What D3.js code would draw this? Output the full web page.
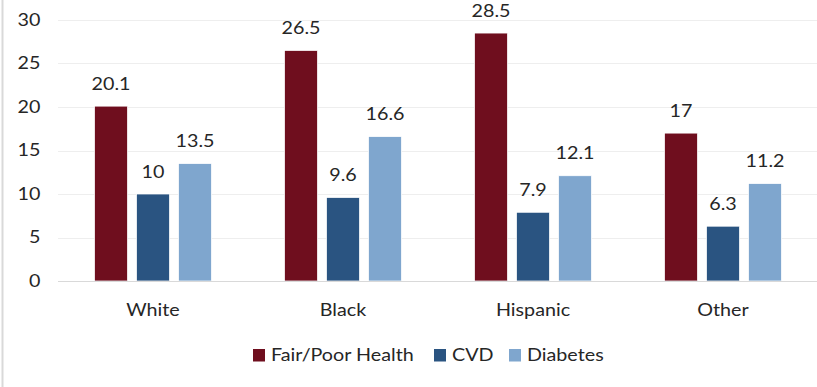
<!DOCTYPE html>
<html>
<head>
<meta charset="utf-8">
<script src="https://cdn.jsdelivr.net/npm/d3@7"></script>
<style>
  body { margin: 0; background: #fff; }
  text { font-family: Lato, "Open Sans", sans-serif; fill: #262626; font-size: 17px; }
</style>
</head>
<body>
<svg id="chart"></svg>
<script>
const categories = ["White", "Black", "Hispanic", "Other"];
const series = ["Fair/Poor Health", "CVD", "Diabetes"];
const fairPoor = [20.1, 26.5, 28.5, 17];
const cvd = [10, 9.6, 7.9, 6.3];
const diabetes = [13.5, 16.6, 12.1, 11.2];
const yTicks = [0, 5, 10, 15, 20, 25, 30];
const colors = ["#6f0e1e", "#2a5481", "#7fa6ce"];

const WIDTH = 817, HEIGHT = 387;
const MARGIN = { top: 20, right: -1, bottom: 106, left: 58 };
// the reference text is a little wider than Lato, stretch it sideways
const STRETCH = 1.16;

const svg = d3.select("#chart")
  .attr("width", WIDTH)
  .attr("height", HEIGHT);

// thin frame line on the left
svg.append("line")
  .attr("x1", 2.5).attr("x2", 2.5)
  .attr("y1", 0).attr("y2", HEIGHT)
  .style("stroke", "#d9d9d9")
  .style("stroke-width", 2);

const x0 = d3.scaleBand()
  .domain(categories)
  .range([MARGIN.left, WIDTH - MARGIN.right]);

const x1 = d3.scaleBand()
  .domain(series)
  .range([-58.5, 58.5])
  .paddingInner(0.214);

const y = d3.scaleLinear()
  .domain([0, 30])
  .range([HEIGHT - MARGIN.bottom, MARGIN.top]);

// gridlines
svg.append("g")
  .selectAll("line")
  .data(yTicks.filter(d => d > 0))
  .enter()
  .append("line")
  .attr("x1", MARGIN.left)
  .attr("x2", WIDTH)
  .attr("y1", d => Math.round(y(d)) + 0.5)
  .attr("y2", d => Math.round(y(d)) + 0.5)
  .style("stroke", "#eeeeee");

// y axis labels
const axisLeft = d3.axisLeft(y)
  .tickValues(yTicks)
  .tickSize(0)
  .tickPadding(0);

const yAxis = svg.append("g")
  .attr("transform", `translate(${40.5}, 0)`)
  .call(axisLeft);
yAxis.select(".domain").remove();
yAxis.selectAll("text")
  .style("font-size", "17px")
  .style("font-family", "Lato, sans-serif")
  .style("fill", "#262626")
  .attr("transform", `scale(${STRETCH},1)`);

const table = categories.map((c, i) => ({
  category: c,
  values: [fairPoor[i], cvd[i], diabetes[i]].map((v, j) => ({ key: series[j], value: v, j }))
}));

const groups = svg.selectAll(".group")
  .data(table)
  .enter()
  .append("g")
  .attr("class", "group")
  .attr("transform", d => `translate(${x0(d.category) + x0.bandwidth() / 2}, 0)`);

groups.selectAll("rect")
  .data(d => d.values)
  .enter()
  .append("rect")
  .attr("x", d => x1(d.key))
  .attr("y", d => y(d.value))
  .attr("width", x1.bandwidth())
  .attr("height", d => y(0) - y(d.value))
  .style("fill", d => colors[d.j])
  .style("stroke", "#ffffff")
  .style("stroke-width", 0.75);

groups.selectAll(".label")
  .data(d => d.values)
  .enter()
  .append("g")
  .attr("class", "label")
  .attr("transform", d => `translate(${x1(d.key) + x1.bandwidth() / 2}, ${y(d.value) - 16.5}) scale(${STRETCH},1)`)
  .append("text")
  .attr("text-anchor", "middle")
  .text(d => d.value);

// zero line
svg.append("line")
  .attr("x1", MARGIN.left)
  .attr("x2", WIDTH)
  .attr("y1", Math.round(y(0)) + 0.5)
  .attr("y2", Math.round(y(0)) + 0.5)
  .style("stroke", "#d9d9d9");

// category labels
const axisBottom = d3.axisBottom(x0).tickSize(0).tickPadding(0);
const xAxis = svg.append("g")
  .attr("transform", `translate(0, ${y(0) + 22.5})`)
  .call(axisBottom);
xAxis.select(".domain").remove();
xAxis.selectAll("text")
  .style("font-size", "17px")
  .style("font-family", "Lato, sans-serif")
  .style("fill", "#262626")
  .attr("transform", `scale(${STRETCH},1)`);

// legend
const legendX = [253, 434, 509];
const legend = svg.append("g")
  .selectAll("g")
  .data(series)
  .enter()
  .append("g")
  .attr("transform", (d, i) => `translate(${legendX[i]}, ${349})`);

legend.append("rect")
  .attr("width", 12)
  .attr("height", 12.5)
  .style("fill", (d, i) => colors[i]);

legend.append("g")
  .attr("transform", `translate(18, 6.5) scale(${STRETCH},1)`)
  .append("text")
  .attr("dy", "0.35em")
  .text(d => d);
</script>
</body>
</html>
